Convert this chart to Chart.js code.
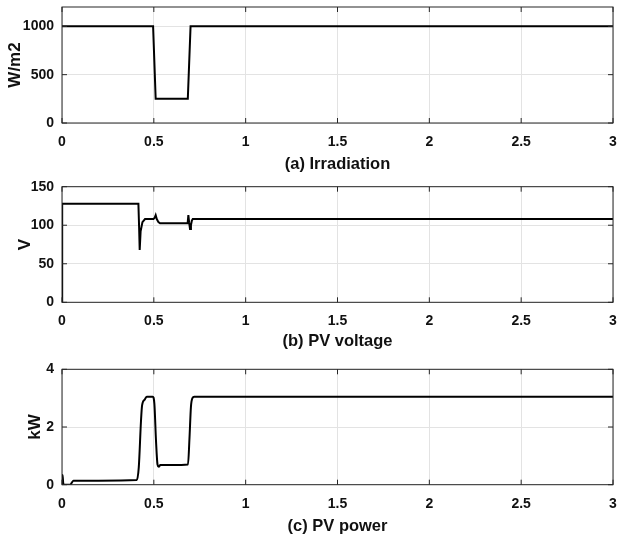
<!DOCTYPE html>
<html>
<head>
<meta charset="utf-8">
<script src="https://cdn.jsdelivr.net/npm/chart.js@4.4.1/dist/chart.umd.min.js"></script>
<style>
  body { margin: 0; background: #fff; }
  #wrap { position: relative; width: 617px; height: 540px; }
  canvas { position: absolute; left: 0; }
</style>
</head>
<body>
<div id="wrap">
  <canvas id="irrChart" width="617" height="176" style="top:0px"></canvas>
  <canvas id="voltChart" width="617" height="180" style="top:176px"></canvas>
  <canvas id="powChart" width="617" height="184" style="top:356px"></canvas>
</div>
<script>
// x axis ticks (time, s)
const xTicks = [0, 0.5, 1, 1.5, 2, 2.5, 3];

// (a) Irradiation, W/m2
const irrTime = [0, 0.496, 0.51, 0.685, 0.70, 3];
const irrValues = [1000, 1000, 250, 250, 1000, 1000];
const irrTicks = [0, 500, 1000];

// (b) PV voltage, V
const voltTime = [0, 0.001, 0.2, 0.416, 0.42, 0.423, 0.428, 0.438, 0.452, 0.47, 0.498, 0.505, 0.51, 0.516, 0.525, 0.534, 0.6, 0.684, 0.688, 0.692, 0.697, 0.702, 0.707, 0.712, 1, 2, 3];
const voltValues = [0, 128, 128, 128, 96, 68, 92, 104, 108, 108, 108, 110, 113, 108, 104, 102.5, 102.5, 102.5, 113, 104, 95, 100, 106, 108, 108, 108, 108];
const voltTicks = [0, 50, 100, 150];

// (c) PV power, kW
const powTime = [0, 0.003, 0.007, 0.014, 0.044, 0.062, 0.2, 0.407, 0.418, 0.43, 0.436, 0.45, 0.462, 0.494, 0.503, 0.512, 0.52, 0.527, 0.535, 0.6, 0.686, 0.694, 0.702, 0.71, 0.72, 3];
const powValues = [0, 0.34, 0.04, 0, 0, 0.14, 0.14, 0.16, 0.6, 2.2, 2.75, 2.95, 3.05, 3.05, 2.8, 1.5, 0.7, 0.62, 0.68, 0.68, 0.7, 1.6, 2.7, 3.0, 3.05, 3.05];
const powTicks = [0, 2, 4];

// box round the plot area with inward tick marks (matlab look)
const boxPlugin = {
  id: 'box',
  afterDraw(chart) {
    const { ctx, chartArea: a, scales } = chart;
    ctx.save();
    ctx.strokeStyle = '#262626';
    ctx.lineWidth = 1;
    ctx.beginPath();
    scales.x.ticks.forEach(t => {
      const px = scales.x.getPixelForValue(t.value);
      ctx.moveTo(px, a.bottom); ctx.lineTo(px, a.bottom - 5);
      ctx.moveTo(px, a.top); ctx.lineTo(px, a.top + 5);
    });
    scales.y.ticks.forEach(t => {
      const py = scales.y.getPixelForValue(t.value);
      ctx.moveTo(a.left, py); ctx.lineTo(a.left + 5, py);
      ctx.moveTo(a.right, py); ctx.lineTo(a.right - 5, py);
    });
    ctx.stroke();
    ctx.strokeRect(a.left, a.top, a.right - a.left, a.bottom - a.top);
    ctx.restore();
  }
};

const fontFam = "'Liberation Sans', Arial, sans-serif";

function makePanel(id, time, values, yTicks, yMax, title, yTitle, lay, smooth) {
  const ctx = document.getElementById(id).getContext('2d');
  return new Chart(ctx, {
    type: 'line',
    data: {
      datasets: [{
        data: time.map((t, i) => ({ x: t, y: values[i] })),
        borderColor: '#000',
        borderWidth: 2,
        pointRadius: 0,
        fill: false,
        cubicInterpolationMode: smooth ? 'monotone' : 'default',
        tension: 0
      }]
    },
    options: {
      responsive: false,
      animation: false,
      devicePixelRatio: 1,
      layout: { padding: { top: lay.padTop, right: 4, bottom: 0, left: 0 } },
      plugins: { legend: { display: false }, tooltip: { enabled: false } },
      scales: {
        x: {
          type: 'linear',
          min: 0, max: 3,
          afterBuildTicks: s => { s.ticks = xTicks.map(v => ({ value: v })); },
          afterFit: s => { s.height = lay.xh; s.paddingLeft = 0; s.paddingRight = 0; },
          grid: { color: '#e3e3e3', drawTicks: false },
          border: { display: false },
          ticks: {
            autoSkip: false, maxRotation: 0, padding: 10.6,
            color: '#111', font: { family: fontFam, size: 14, weight: 'bold' },
            callback: v => String(v)
          },
          title: {
            display: true, text: title, color: '#111',
            font: { family: fontFam, size: 16.5, weight: 'bold' },
            padding: { top: 0, bottom: lay.titlePad }
          }
        },
        y: {
          type: 'linear',
          min: 0, max: yMax,
          afterBuildTicks: s => { s.ticks = yTicks.map(v => ({ value: v })); },
          afterFit: s => { s.width = 62; s.paddingTop = 0; s.paddingBottom = 0; },
          grid: { color: '#e3e3e3', drawTicks: false },
          border: { display: false },
          ticks: {
            padding: 8, color: '#111',
            font: { family: fontFam, size: 14, weight: 'bold' },
            callback: v => String(v)
          },
          title: {
            display: true, text: yTitle, color: '#111',
            font: { family: fontFam, size: 17, weight: 'bold' },
            padding: { top: lay.yTitlePad, bottom: 0 }
          }
        }
      }
    },
    plugins: [boxPlugin]
  });
}

makePanel('irrChart', irrTime, irrValues, irrTicks, 1200, '(a) Irradiation', 'W/m2',
  { padTop: 7, xh: 53, titlePad: 2.1, yTitlePad: 4.8 }, false);
makePanel('voltChart', voltTime, voltValues, voltTicks, 150, '(b) PV voltage', 'V',
  { padTop: 10.7, xh: 53.7, titlePad: 5.1, yTitlePad: 14.8 }, false);
makePanel('powChart', powTime, powValues, powTicks, 4, '(c) PV power', 'kW',
  { padTop: 13.3, xh: 55.3, titlePad: 3.6, yTitlePad: 25.5 }, true);
</script>
</body>
</html>
